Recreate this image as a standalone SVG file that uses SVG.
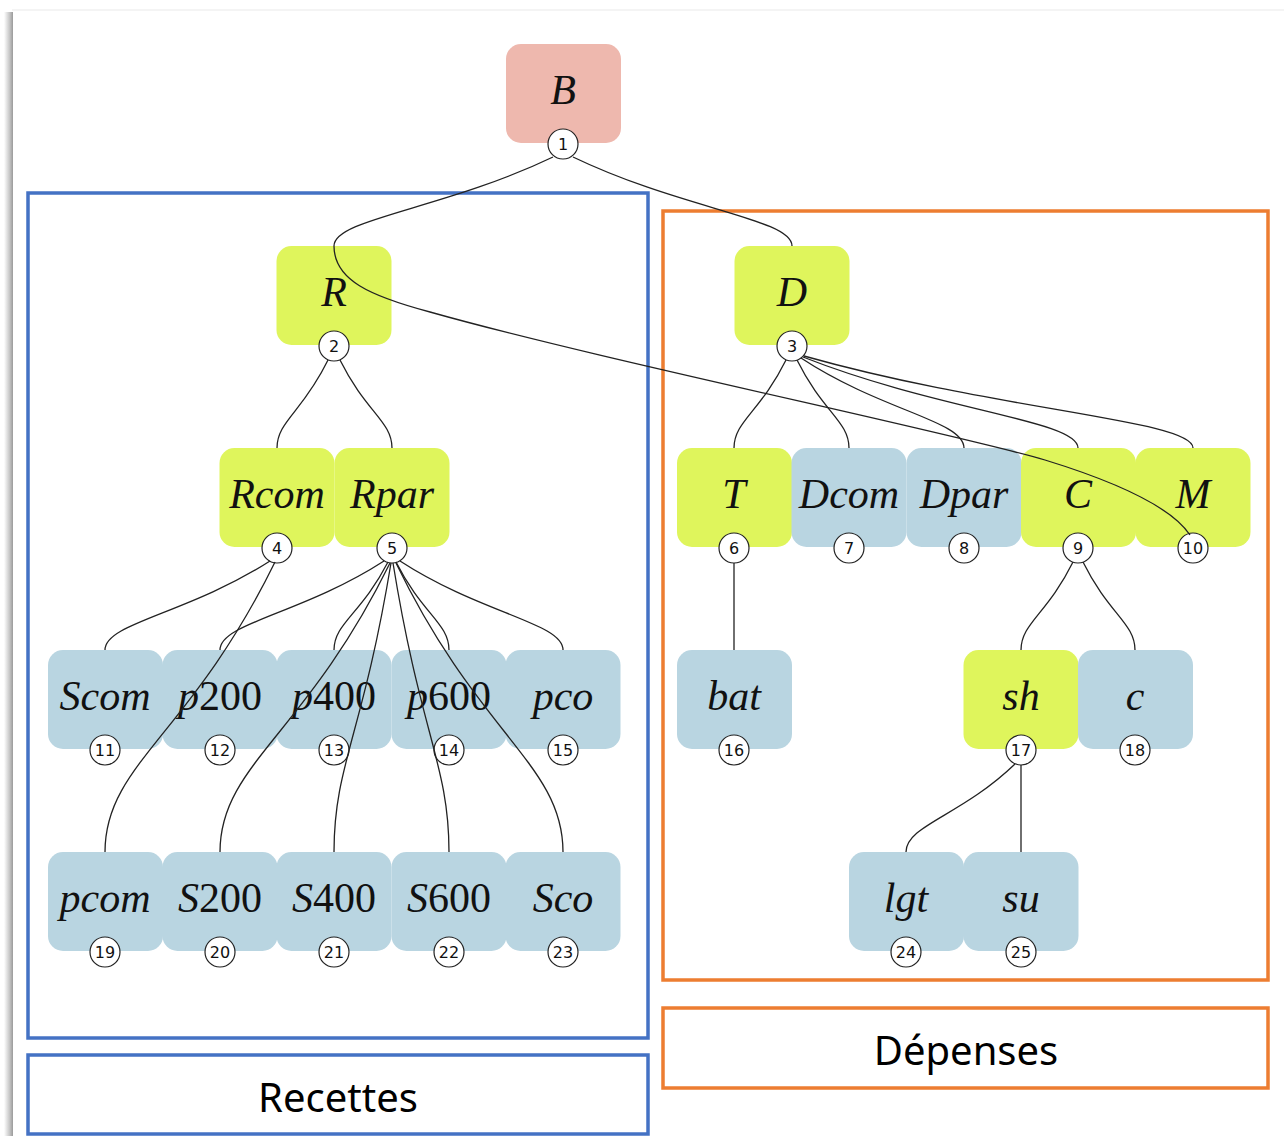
<svg xmlns="http://www.w3.org/2000/svg" width="1284" height="1136" viewBox="0 0 1284 1136">
<defs>
<linearGradient id="shadow" x1="0" y1="0" x2="1" y2="0">
<stop offset="0" stop-color="#ffffff"/>
<stop offset="0.6" stop-color="#c8c8c8"/>
<stop offset="1" stop-color="#9a9a9a"/>
</linearGradient>
</defs>
<style>
.pink{fill:#EEB8AE}
.green{fill:#DFF55C}
.blue{fill:#B9D5E1}
.lbl{font-family:"Liberation Serif",serif;font-style:italic;font-size:42px;text-anchor:middle;fill:#111}
.lbl .up{font-style:normal}
.num{font-family:"DejaVu Sans",sans-serif;font-size:16px;text-anchor:middle;fill:#111}
.node circle{fill:#fff;stroke:#222;stroke-width:1.2}
#connectors path{fill:none;stroke:#222;stroke-width:1.3}
.frame{fill:none;stroke-width:3.5}
.cap{font-family:"Noto Sans",sans-serif;font-size:40px;text-anchor:middle;fill:#000}
</style>
<rect x="0" y="0" width="1284" height="1136" fill="#fff"/>
<line x1="12" y1="10" x2="1284" y2="10" stroke="#f0f0f0" stroke-width="1.5"/>
<rect x="4" y="12" width="9" height="1124" fill="url(#shadow)"/>

<g id="frames">
<rect class="frame" x="28" y="193" width="620" height="845" stroke="#4472C4"/>
<rect class="frame" x="28" y="1055" width="620" height="79" stroke="#4472C4" fill="#fff"/>
<text class="cap" x="338" y="1112">Recettes</text>
<rect class="frame" x="663" y="211" width="605" height="769" stroke="#ED7D31"/>
<rect class="frame" x="663" y="1008" width="605" height="80" stroke="#ED7D31" fill="#fff"/>
<text class="cap" x="966" y="1065">Dépenses</text>
</g>

<g id="nodes">
<g id="n1" class="node"><rect class="pink" x="506" y="44" width="115" height="99" rx="15"/><text class="lbl" x="563" y="104">B</text><circle cx="563" cy="144" r="15"/><text class="num" x="563" y="150">1</text></g>
<g id="n2" class="node"><rect class="green" x="276.5" y="246" width="115" height="99" rx="15"/><text class="lbl" x="334" y="306">R</text><circle cx="334" cy="346" r="15"/><text class="num" x="334" y="352">2</text></g>
<g id="n3" class="node"><rect class="green" x="734.5" y="246" width="115" height="99" rx="15"/><text class="lbl" x="792" y="306">D</text><circle cx="792" cy="346" r="15"/><text class="num" x="792" y="352">3</text></g>
<g id="n4" class="node"><rect class="green" x="219.5" y="448" width="115" height="99" rx="15"/><text class="lbl" x="277" y="508">Rcom</text><circle cx="277" cy="548" r="15"/><text class="num" x="277" y="554">4</text></g>
<g id="n5" class="node"><rect class="green" x="334.5" y="448" width="115" height="99" rx="15"/><text class="lbl" x="392" y="508">Rpar</text><circle cx="392" cy="548" r="15"/><text class="num" x="392" y="554">5</text></g>
<g id="n6" class="node"><rect class="green" x="677" y="448" width="115" height="99" rx="15"/><text class="lbl" x="734" y="508">T</text><circle cx="734" cy="548" r="15"/><text class="num" x="734" y="554">6</text></g>
<g id="n7" class="node"><rect class="blue" x="791.5" y="448" width="115" height="99" rx="15"/><text class="lbl" x="849" y="508">Dcom</text><circle cx="849" cy="548" r="15"/><text class="num" x="849" y="554">7</text></g>
<g id="n8" class="node"><rect class="blue" x="906.5" y="448" width="115" height="99" rx="15"/><text class="lbl" x="964" y="508">Dpar</text><circle cx="964" cy="548" r="15"/><text class="num" x="964" y="554">8</text></g>
<g id="n9" class="node"><rect class="green" x="1021" y="448" width="115" height="99" rx="15"/><text class="lbl" x="1078" y="508">C</text><circle cx="1078" cy="548" r="15"/><text class="num" x="1078" y="554">9</text></g>
<g id="n10" class="node"><rect class="green" x="1135.5" y="448" width="115" height="99" rx="15"/><text class="lbl" x="1193" y="508">M</text><circle cx="1193" cy="548" r="15"/><text class="num" x="1193" y="554">10</text></g>
<g id="n11" class="node"><rect class="blue" x="48" y="650" width="115" height="99" rx="15"/><text class="lbl" x="105" y="710">Scom</text><circle cx="105" cy="750" r="15"/><text class="num" x="105" y="756">11</text></g>
<g id="n12" class="node"><rect class="blue" x="162.5" y="650" width="115" height="99" rx="15"/><text class="lbl" x="220" y="710">p<tspan class="up">200</tspan></text><circle cx="220" cy="750" r="15"/><text class="num" x="220" y="756">12</text></g>
<g id="n13" class="node"><rect class="blue" x="276.5" y="650" width="115" height="99" rx="15"/><text class="lbl" x="334" y="710">p<tspan class="up">400</tspan></text><circle cx="334" cy="750" r="15"/><text class="num" x="334" y="756">13</text></g>
<g id="n14" class="node"><rect class="blue" x="391.5" y="650" width="115" height="99" rx="15"/><text class="lbl" x="449" y="710">p<tspan class="up">600</tspan></text><circle cx="449" cy="750" r="15"/><text class="num" x="449" y="756">14</text></g>
<g id="n15" class="node"><rect class="blue" x="505.5" y="650" width="115" height="99" rx="15"/><text class="lbl" x="563" y="710">pco</text><circle cx="563" cy="750" r="15"/><text class="num" x="563" y="756">15</text></g>
<g id="n16" class="node"><rect class="blue" x="677" y="650" width="115" height="99" rx="15"/><text class="lbl" x="734" y="710">bat</text><circle cx="734" cy="750" r="15"/><text class="num" x="734" y="756">16</text></g>
<g id="n17" class="node"><rect class="green" x="963.5" y="650" width="115" height="99" rx="15"/><text class="lbl" x="1021" y="710">sh</text><circle cx="1021" cy="750" r="15"/><text class="num" x="1021" y="756">17</text></g>
<g id="n18" class="node"><rect class="blue" x="1078" y="650" width="115" height="99" rx="15"/><text class="lbl" x="1135" y="710">c</text><circle cx="1135" cy="750" r="15"/><text class="num" x="1135" y="756">18</text></g>
<g id="n19" class="node"><rect class="blue" x="48" y="852" width="115" height="99" rx="15"/><text class="lbl" x="105" y="912">pcom</text><circle cx="105" cy="952" r="15"/><text class="num" x="105" y="958">19</text></g>
<g id="n20" class="node"><rect class="blue" x="162.5" y="852" width="115" height="99" rx="15"/><text class="lbl" x="220" y="912">S<tspan class="up">200</tspan></text><circle cx="220" cy="952" r="15"/><text class="num" x="220" y="958">20</text></g>
<g id="n21" class="node"><rect class="blue" x="276.5" y="852" width="115" height="99" rx="15"/><text class="lbl" x="334" y="912">S<tspan class="up">400</tspan></text><circle cx="334" cy="952" r="15"/><text class="num" x="334" y="958">21</text></g>
<g id="n22" class="node"><rect class="blue" x="391.5" y="852" width="115" height="99" rx="15"/><text class="lbl" x="449" y="912">S<tspan class="up">600</tspan></text><circle cx="449" cy="952" r="15"/><text class="num" x="449" y="958">22</text></g>
<g id="n23" class="node"><rect class="blue" x="505.5" y="852" width="115" height="99" rx="15"/><text class="lbl" x="563" y="912">Sco</text><circle cx="563" cy="952" r="15"/><text class="num" x="563" y="958">23</text></g>
<g id="n24" class="node"><rect class="blue" x="849" y="852" width="115" height="99" rx="15"/><text class="lbl" x="906" y="912">lgt</text><circle cx="906" cy="952" r="15"/><text class="num" x="906" y="958">24</text></g>
<g id="n25" class="node"><rect class="blue" x="963.5" y="852" width="115" height="99" rx="15"/><text class="lbl" x="1021" y="912">su</text><circle cx="1021" cy="952" r="15"/><text class="num" x="1021" y="958">25</text></g>
</g>

<g id="connectors">
<path d="M553,157 C443.5,209.6 334,218.7 334,246"/>
<path d="M334,246 C334,280 370,296 430,312 C600,360 950,432 1045,460 C1110,480 1170,505 1190,535"/>
<path d="M573,157 C682.5,209.6 792,218.7 792,246"/>
<path d="M328,360 C302.5,412.4 277,421.3 277,448"/>
<path d="M340,360 C366,412.4 392,421.3 392,448"/>
<path d="M786,360 C760,412.4 734,421.3 734,448"/>
<path d="M797,360 C823,412.4 849,421.3 849,448"/>
<path d="M801,358 C882.5,411.6 964,420.7 964,448"/>
<path d="M803,357 C940.5,411.2 1078,420.4 1078,448"/>
<path d="M804,356 C998.5,410.8 1193,420.1 1193,448"/>
<path d="M270,561 C187.5,614 105,623 105,650"/>
<path d="M275,562 C190,735.6 105,764.7 105,852"/>
<path d="M384,561 C302,614 220,623 220,650"/>
<path d="M388,562 C361,614.4 334,623.3 334,650"/>
<path d="M396,562 C422.5,614.4 449,623.3 449,650"/>
<path d="M400,561 C481.5,614 563,623 563,650"/>
<path d="M390,563 C305,736 220,765 220,852"/>
<path d="M391,563 C362.5,736 334,765 334,852"/>
<path d="M393,563 C421,736 449,765 449,852"/>
<path d="M396,563 C479.5,736 563,765 563,852"/>
<path d="M734,563 L734,650"/>
<path d="M1073,562 C1047,614.4 1021,623.3 1021,650"/>
<path d="M1083,562 C1109,614.4 1135,623.3 1135,650"/>
<path d="M1015,764 C960.5,816.4 906,825.3 906,852"/>
<path d="M1021,765 L1021,852"/>
</g>
</svg>
